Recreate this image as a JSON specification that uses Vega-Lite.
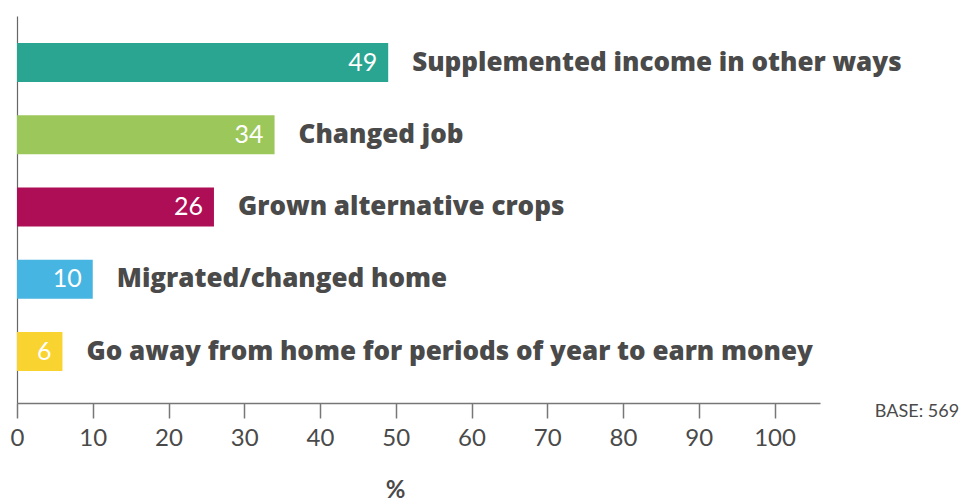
{
  "$schema": "https://vega.github.io/schema/vega-lite/v6.json",
  "autosize": "none",
  "width": 803,
  "height": 387,
  "padding": {"left": 17, "top": 16, "right": 143, "bottom": 98},
  "background": "white",
  "config": {"view": {"stroke": null}, "font": "Lato"},
  "data": {"values": [
    {"category": "Supplemented income in other ways", "value": 49},
    {"category": "Changed job", "value": 34},
    {"category": "Grown alternative crops", "value": 26},
    {"category": "Migrated/changed home", "value": 10},
    {"category": "Go away from home for periods of year to earn money", "value": 6}
  ]},
  "encoding": {
    "y": {"field": "category", "type": "nominal", "sort": null,
      "scale": {"paddingInner": 0.46, "paddingOuter": 0.408, "align": 0.458},
      "axis": {"title": null, "labels": false, "ticks": false, "domainColor": "#666666", "domainWidth": 1.2}},
    "x": {"field": "value", "type": "quantitative",
      "scale": {"domain": [0, 106], "nice": false},
      "axis": {"values": [0,10,20,30,40,50,60,70,80,90,100], "grid": false, "title": "%",
        "domainColor": "#777777", "domainWidth": 1.5, "tickColor": "#777777", "tickWidth": 1.5, "tickSize": 15,
        "labelFont": "Lato", "labelFontSize": 24, "labelColor": "#4a4a4a", "labelPadding": 8, "labelFlush": false,
        "titleFont": "Lato", "titleFontSize": 24, "titleFontWeight": "bold", "titleColor": "#4a4a4a",
        "titlePadding": 28, "titleX": 378}}
  },
  "layer": [
    {"mark": {"type": "bar", "cornerRadius": 0},
      "encoding": {"color": {"field": "category", "type": "nominal", "legend": null,
        "scale": {"domain": ["Supplemented income in other ways", "Changed job", "Grown alternative crops", "Migrated/changed home", "Go away from home for periods of year to earn money"],
          "range": ["#29a591", "#9cc75b", "#ae0e55", "#47b5e1", "#f9d330"]}}}},
    {"mark": {"type": "text", "align": "right", "baseline": "middle", "dx": -11, "font": "Lato", "fontSize": 25, "color": "white"},
      "encoding": {"text": {"field": "value", "type": "quantitative"}}},
    {"mark": {"type": "text", "align": "left", "baseline": "middle", "dx": 24, "font": "Open Sans", "fontSize": 26, "fontWeight": 800, "color": "#4a4a4a"},
      "encoding": {"text": {"field": "category", "type": "nominal"}}},
    {"data": {"values": [{"note": "BASE: 569", "pos": 118.8, "anchor": "Go away from home for periods of year to earn money"}]},
      "mark": {"type": "text", "align": "center", "baseline": "middle", "dy": 60, "font": "Lato", "fontSize": 18, "color": "#4a4a4a"},
      "encoding": {"x": {"field": "pos", "type": "quantitative"}, "y": {"field": "anchor", "type": "nominal"}, "text": {"field": "note"}}}
  ]
}
